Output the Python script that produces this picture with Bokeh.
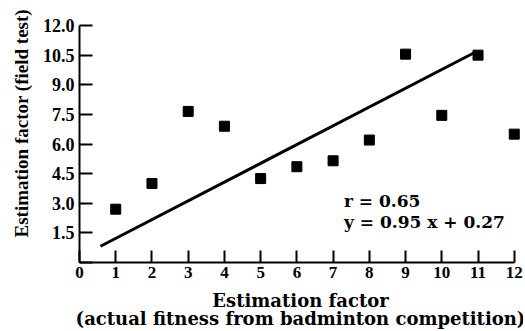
from bokeh.plotting import figure
from bokeh.models import Range1d, Label, FixedTicker, Title
from bokeh.embed import file_html
from bokeh.resources import INLINE

# ---- data ----
x_values = [1, 2, 3, 4, 5, 6, 7, 8, 9, 10, 11, 12]
y_values = [2.7, 4.0, 7.65, 6.9, 4.25, 4.85, 5.15, 6.2, 10.55, 7.45, 10.5, 6.5]
slope = 0.95
intercept = 0.27
fit_x = [0.58, 10.88]
fit_y = [slope * v + intercept for v in fit_x]
x_ticks = [0, 1, 2, 3, 4, 5, 6, 7, 8, 9, 10, 11, 12]
y_ticks = [0, 1.5, 3.0, 4.5, 6.0, 7.5, 9.0, 10.5, 12.0]
y_tick_labels = ["", "1.5", "3.0", "4.5", "6.0", "7.5", "9.0", "10.5", "12.0"]
x_title = "Estimation factor\n(actual fitness from badminton competition)"
y_title = "Estimation factor (field test)"
annot = ["r = 0.65", "y = 0.95 x + 0.27"]

WIDE_FONT = "DejaVu Serif"
NUM_FONT = "Liberation Serif"

p = figure(frame_width=442, frame_height=237, output_backend="svg", toolbar_location=None,
           x_range=Range1d(0, 12.2), y_range=Range1d(0, 12),
           min_border_left=79, min_border_right=2, min_border_top=25, min_border_bottom=68)
p.outline_line_color = None
p.xgrid.grid_line_color = None
p.ygrid.grid_line_color = None
p.background_fill_color = "white"
p.border_fill_color = "white"

for ax in (p.xaxis[0], p.yaxis[0]):
    ax.axis_line_width = 2
    ax.axis_line_color = "black"
    ax.major_tick_line_width = 2
    ax.major_tick_line_color = "black"
    ax.major_tick_out = 0
    ax.minor_tick_line_color = None
    ax.major_label_text_font = NUM_FONT
    ax.major_label_text_font_style = "bold"
    ax.major_label_text_color = "black"
    ax.bounds = (0, 12)

p.xaxis.ticker = FixedTicker(ticks=x_ticks)
p.xaxis.major_tick_in = 12
p.xaxis.major_label_text_font_size = "17px"
p.xaxis.major_label_standoff = 4
p.xaxis.axis_label = x_title
p.xaxis.axis_label_text_font = WIDE_FONT
p.xaxis.axis_label_text_font_style = "bold"
p.xaxis.axis_label_text_font_size = "18px"
p.xaxis.axis_label_text_line_height = 0.86
p.xaxis.axis_label_text_color = "black"
p.xaxis.axis_label_standoff = 9

p.yaxis.ticker = FixedTicker(ticks=y_ticks)
p.yaxis.major_label_overrides = {t: s for t, s in zip(y_ticks, y_tick_labels)}
p.yaxis.major_tick_in = 13
p.yaxis.major_label_text_font_size = "18px"
p.yaxis.major_label_standoff = 5

p.add_layout(Title(text=y_title, align="left", offset=25, text_font=NUM_FONT, text_font_style="bold",
                   text_font_size="19px", text_line_height=1.0, text_color="black",
                   standoff=16), "left")

p.line(fit_x, fit_y, line_width=3, line_color="black")
p.scatter(x_values, y_values, marker="square", size=10, fill_color="black", line_color="black")

p.add_layout(Label(x=7.3, y=3.1, text=annot[0], text_font=WIDE_FONT, text_font_style="bold",
                   text_font_size="17px", text_color="black", text_baseline="middle"))
p.add_layout(Label(x=7.3, y=2.05, text=annot[1], text_font=WIDE_FONT, text_font_style="bold",
                   text_font_size="17px", text_color="black", text_baseline="middle"))

open("out.html", "w").write(file_html(p, INLINE))
